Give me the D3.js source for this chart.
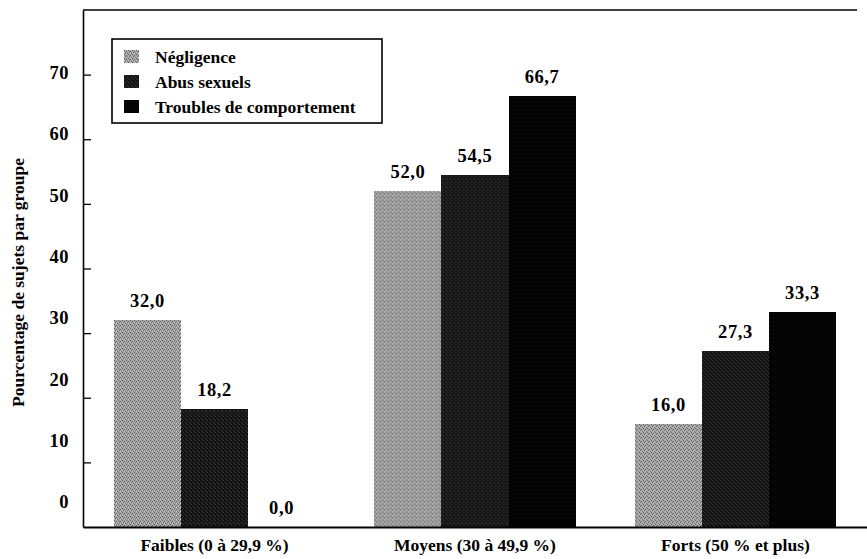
<!DOCTYPE html>
<html>
<head>
<meta charset="utf-8">
<script src="https://cdn.jsdelivr.net/npm/d3@7"></script>
<style>
  body { margin: 0; background: #fff; }
  svg { display: block; }
  text { font-family: "Liberation Serif", "Times New Roman", serif; font-weight: bold; fill: #000; }
</style>
</head>
<body>
<div id="chart"></div>
<script>
// data
const categories = ["Faibles (0 à 29,9 %)", "Moyens (30 à 49,9 %)", "Forts (50 % et plus)"];
const series = ["Négligence", "Abus sexuels", "Troubles de comportement"];
const negligence = [32.0, 52.0, 16.0];
const abus = [18.2, 54.5, 27.3];
const troubles = [0.0, 66.7, 33.3];
const yTicks = [0, 10, 20, 30, 40, 50, 60, 70];

const values = [negligence, abus, troubles];
const rows = categories.map((c, i) => ({
    cat: c,
    bars: series.map((s, j) => ({ key: s, value: values[j][i] }))
}));

const width = 867, height = 559;
const left = 83, baseY = 527, topY = 10;

const svg = d3.select("#chart").append("svg")
    .attr("width", width)
    .attr("height", height);

// dithered fills like the print
const defs = svg.append("defs");
function pixPattern(id, base, dots) {
    const p = defs.append("pattern")
        .attr("id", id)
        .attr("width", 4).attr("height", 4)
        .attr("patternUnits", "userSpaceOnUse");
    p.append("rect").attr("width", 4).attr("height", 4).attr("fill", base);
    dots.forEach(d => p.append("rect")
        .attr("x", d[0]).attr("y", d[1])
        .attr("width", 1).attr("height", 1)
        .attr("fill", d[2]));
}
pixPattern("pNeg", "#a4a4a4", [
    [0, 0, "#5e5e5e"], [2, 1, "#666666"], [1, 2, "#626262"], [3, 3, "#6a6a6a"],
    [2, 3, "#cfcfcf"], [0, 2, "#c8c8c8"], [3, 0, "#bdbdbd"]
]);
pixPattern("pAbus", "#141414", [
    [1, 0, "#3c3c3c"], [3, 2, "#444444"], [0, 3, "#2e2e2e"]
]);
pixPattern("pTrou", "#030303", [[2, 2, "#151515"]]);

const color = d3.scaleOrdinal()
    .domain(series)
    .range(["url(#pNeg)", "url(#pAbus)", "url(#pTrou)"]);

const x0 = d3.scaleBand()
    .domain(categories)
    .range([left, width])
    .paddingInner(0.228)
    .paddingOuter(0.119);

const x1 = d3.scaleBand()
    .domain(series)
    .range([0, x0.bandwidth()]);

const y = d3.scaleLinear()
    .domain([0, 80])
    .range([baseY, topY]);

// the printed tick labels drift a little from their tick marks
const yLabel = d3.scaleLinear()
    .domain([0, 70])
    .range([502, 72.5]);

// bars
const groups = svg.append("g")
  .selectAll("g")
  .data(rows)
  .join("g")
    .attr("transform", d => `translate(${x0(d.cat)},0)`);

groups.selectAll("rect")
    .data(d => d.bars)
    .join("rect")
    .attr("x", d => x1(d.key))
    .attr("y", d => y(d.value))
    .attr("width", x1.bandwidth())
    .attr("height", d => baseY - y(d.value))
    .attr("fill", d => color(d.key))
    .attr("shape-rendering", "crispEdges");

groups.selectAll("text")
    .data(d => d.bars)
    .join("text")
    .attr("x", d => x1(d.key) + x1.bandwidth() / 2)
    .attr("y", d => y(d.value) - 13)
    .attr("text-anchor", "middle")
    .style("font-size", "18.5px")
    .style("letter-spacing", "0.6px")
    .text(d => d3.format(".1f")(d.value).replace(".", ","));

// left axis: inward ticks, line doubles as frame
const yAxis = svg.append("g")
    .attr("transform", `translate(${left},0)`)
    .call(d3.axisRight(y).tickValues(yTicks.slice(1)).tickSize(8).tickSizeOuter(0).tickFormat(""));
yAxis.select(".domain").attr("stroke", "#000").attr("stroke-width", 1.6);
yAxis.selectAll(".tick line").attr("stroke", "#000").attr("stroke-width", 1.3);

const yLab = svg.append("g")
    .attr("transform", `translate(${left},0)`)
    .call(d3.axisLeft(yLabel).tickValues(yTicks).tickSize(0).tickPadding(14).tickFormat(d3.format("d")));
yLab.select(".domain").remove();
yLab.selectAll("text")
    .attr("font-family", null)
    .style("font-size", "18.5px")
    .style("letter-spacing", "0.5px");

// bottom axis
const xAxis = svg.append("g")
    .attr("transform", `translate(0,${baseY})`)
    .call(d3.axisBottom(x0).tickSize(0).tickSizeOuter(0).tickPadding(12));
xAxis.select(".domain").attr("stroke", "#000").attr("stroke-width", 1.8);
xAxis.selectAll("text")
    .attr("font-family", null)
    .style("font-size", "17.5px");

// top frame line
svg.append("line")
    .attr("x1", left).attr("x2", 857)
    .attr("y1", y(80)).attr("y2", y(80))
    .attr("stroke", "#000")
    .attr("stroke-width", 1.4);

// y title
svg.append("text")
    .attr("transform", `translate(24,${(y(80) + baseY) / 2 + 14}) rotate(-90)`)
    .attr("text-anchor", "middle")
    .style("font-size", "17.5px")
    .text("Pourcentage de sujets par groupe");

// legend
const legend = svg.append("g").attr("transform", "translate(112,39)");
legend.append("rect")
    .attr("width", 270).attr("height", 84)
    .attr("fill", "#fff")
    .attr("stroke", "#000")
    .attr("stroke-width", 1.6);

const item = legend.selectAll("g.item")
    .data(series)
    .join("g")
    .attr("class", "item")
    .attr("transform", (d, i) => `translate(12,${11 + i * 25})`);

item.append("rect")
    .attr("width", 15).attr("height", 13)
    .attr("fill", d => color(d))
    .attr("shape-rendering", "crispEdges");

item.append("text")
    .attr("x", 31)
    .attr("y", 12.5)
    .style("font-size", "17.5px")
    .text(d => d);
</script>
</body>
</html>
